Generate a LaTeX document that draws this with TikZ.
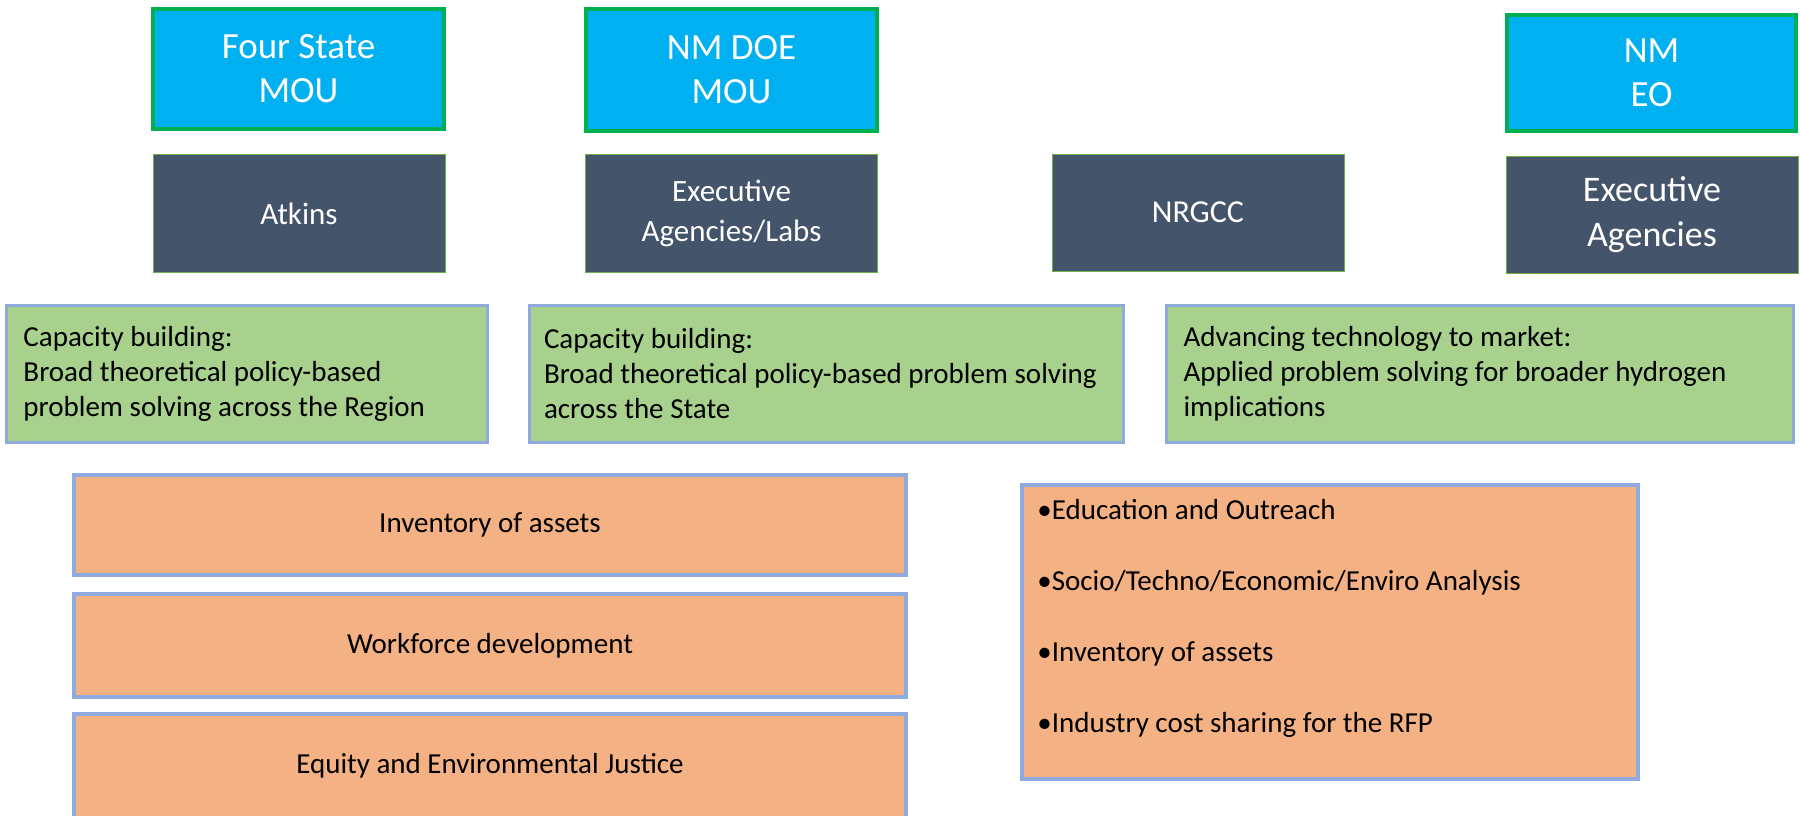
\documentclass[tikz,border=0pt]{standalone}
\usepackage{fontspec}
\setmainfont{Carlito}
\usepackage{tikz}
\definecolor{moublue}{HTML}{00B0F0}
\definecolor{mouedge}{HTML}{00B050}
\definecolor{slate}{HTML}{44546A}
\definecolor{slateedge}{HTML}{70AD47}
\definecolor{goalgreen}{HTML}{A9D18E}
\definecolor{paleblue}{HTML}{8FAADC}
\definecolor{peach}{HTML}{F4B183}
\tikzset{
    %Define style for boxes
    mourect/.style={
           rectangle,
           draw=mouedge, line width=2pt,
           fill=moublue,
           text=white,
           minimum width=145.5pt,
           minimum height=60pt,
           font=\fontsize{18.5}{22}\selectfont,
           align=center},
    agencyrect/.style={
           rectangle,
           draw=slateedge, line width=0.5pt,
           fill=slate,
           text=white,
           minimum width=146pt,
           minimum height=59pt,
           font=\fontsize{15.5}{20}\selectfont,
           align=center},
    goalrect/.style={
           rectangle,
           draw=paleblue, line width=1.5pt,
           fill=goalgreen,
           minimum height=68.5pt,
           inner xsep=8.5pt,
           font=\fontsize{14.5}{17.5}\selectfont,
           align=flush left},
    taskrect/.style={
           rectangle,
           draw=paleblue, line width=2pt,
           fill=peach,
           minimum width=416pt,
           minimum height=51pt,
           font=\fontsize{14.5}{17.5}\selectfont,
           align=center},
    % Define style for the bullet list
    bulletlist/.style={
           inner sep=0pt,
           anchor=west,
           font=\fontsize{14.5}{35.5}\selectfont,
           align=left}
}

\begin{document}
\begin{tikzpicture}[x=0.5pt,y=-0.5pt]
\useasboundingbox (0,0) rectangle (1800,815);
\clip (0,0) rectangle (1800,815);
% agreements
\node[mourect] (fourmou) at (298.5,69) {Four State\\MOU};
\node[mourect, minimum height=61pt] (doemou) at (731.5,70) {NM DOE\\MOU};
\node[mourect, minimum height=58pt, minimum width=144.5pt] (nmeo) at (1651.5,73) {NM\\EO};
% agencies
\node[agencyrect] (atkins) at (299,213.5) {Atkins};
\node[agencyrect] (execlabs) at (731.5,213.5) {Executive\\Agencies/Labs};
\node[agencyrect, minimum height=58.5pt, font=\fontsize{16}{20}\selectfont] (nrgcc) at (1198,212.5) {NRGCC};
\node[agencyrect, minimum height=58.5pt, font=\fontsize{18}{22.5}\selectfont] (execag) at (1652,214.5) {Executive\\Agencies};
% goals
\node[goalrect, text width=223.5pt] (region) at (247,374) {Capacity building:\\Broad theoretical policy-based\\problem solving across the Region};
\node[goalrect, inner xsep=7.5pt, text width=282pt] (state) at (826,374) {Capacity building:\\Broad theoretical policy-based problem solving\\across the State};
\node[goalrect, text width=296.5pt] (market) at (1480,374) {Advancing technology to market:\\Applied problem solving for broader hydrogen\\implications};
% tasks
\node[taskrect, minimum height=50pt] (assets) at (490,525) {Inventory of assets};
\node[taskrect, minimum height=51.5pt] (workforce) at (490,645.5) {Workforce development};
\node[taskrect, minimum height=52pt] (equity) at (490,766) {Equity and Environmental Justice};
\node[taskrect, minimum width=308pt, minimum height=147pt] (outreach) at (1330,632) {};
\node[bulletlist] (outreachlist) at (1037,618) {•Education and Outreach\\•Socio/Techno/Economic/Enviro Analysis\\•Inventory of assets\\•Industry cost sharing for the RFP};
\end{tikzpicture}
\end{document}
